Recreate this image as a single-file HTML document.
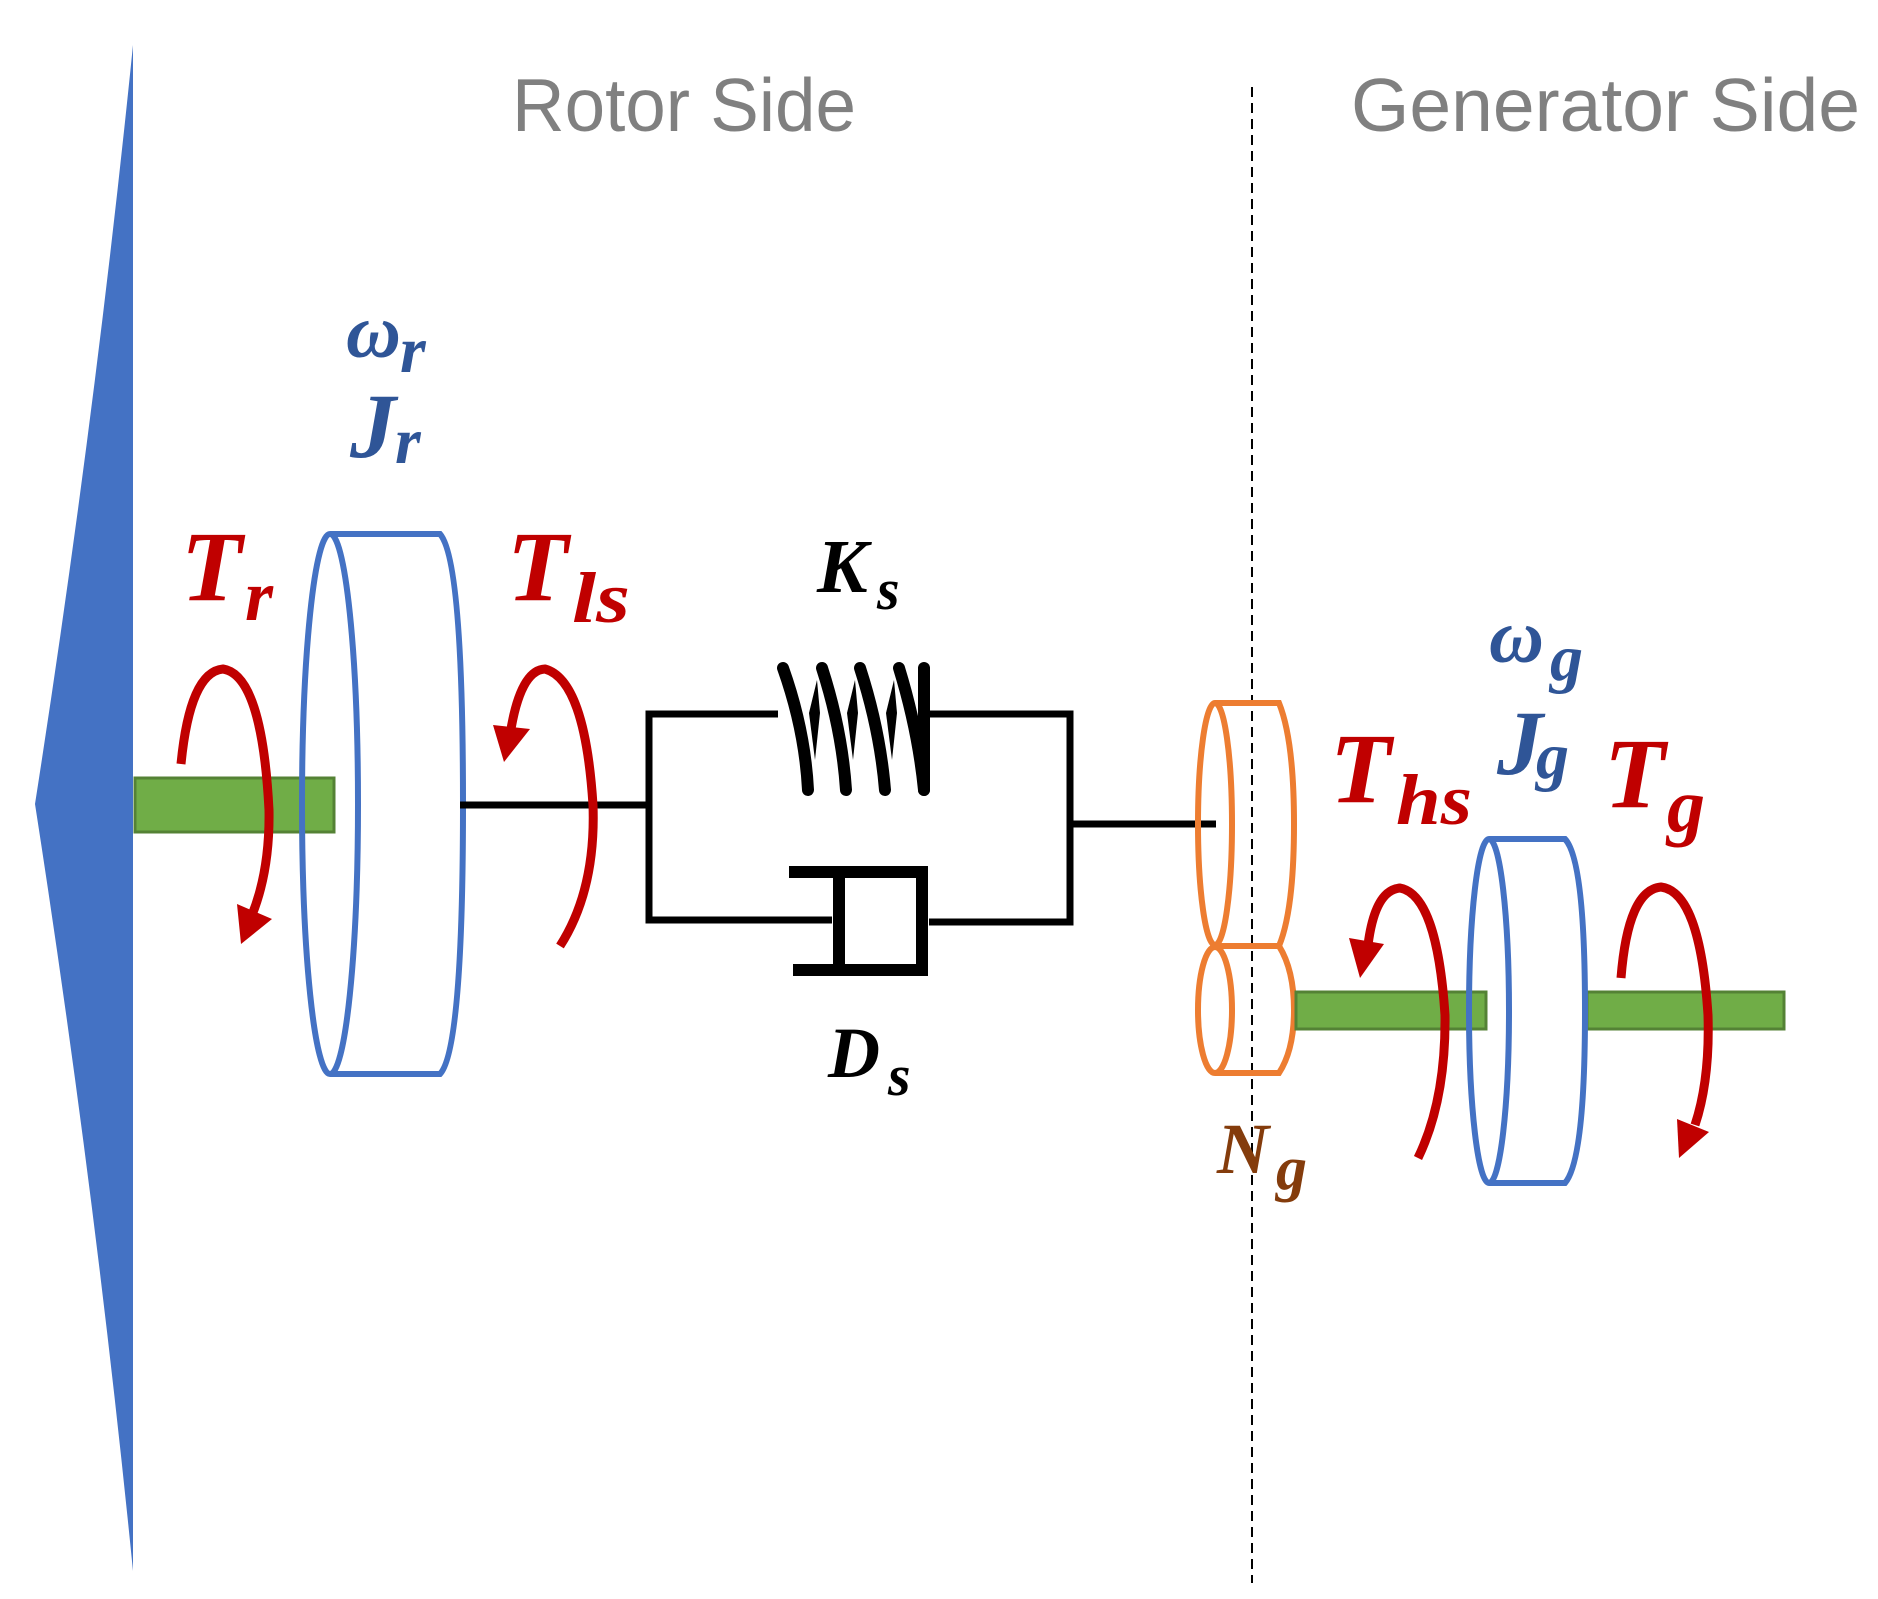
<!DOCTYPE html>
<html><head><meta charset="utf-8"><style>html,body{margin:0;padding:0;background:#fff}svg{display:block}</style></head>
<body>
<svg width="1878" height="1599" viewBox="0 0 1878 1599" xmlns="http://www.w3.org/2000/svg">
<rect width="1878" height="1599" fill="#fff"/>
<path d="M133,45 Q95,420 35,804 Q95,1190 133,1571 Z" fill="#4472c4"/>
<text x="512" y="131" font-family="Liberation Sans, sans-serif" font-size="75" fill="#808080" textLength="344" lengthAdjust="spacingAndGlyphs">Rotor Side</text>
<text x="1351" y="131" font-family="Liberation Sans, sans-serif" font-size="75" fill="#808080" textLength="509" lengthAdjust="spacingAndGlyphs">Generator Side</text>
<line x1="1252" y1="87" x2="1252" y2="1583" stroke="#000" stroke-width="2" stroke-dasharray="10,6"/>
<rect x="135" y="778" width="199" height="54" fill="#70ad47" stroke="#548235" stroke-width="3"/>
<g fill="none" stroke="#4472c4" stroke-width="6">
<path d="M330,534 L440,534 Q463,560 463,804 Q463,1050 440,1074 L330,1074"/>
<ellipse cx="330" cy="804" rx="28" ry="270" fill="none"/>
</g>
<g stroke="#000" stroke-width="7" fill="none">
<line x1="460" y1="805" x2="649" y2="805"/>
<polyline points="778,714 649,714 649,920 832,920"/>
<polyline points="926,714 1070,714 1070,922 929,922"/>
<line x1="1070" y1="824" x2="1216" y2="824"/>
</g>
<g fill="none" stroke="#000" stroke-width="12">
<polyline points="789,872 922,872 922,970 793,970"/>
<line x1="839" y1="872" x2="839" y2="970"/>
</g>
<g fill="none" stroke="#000" stroke-width="12" stroke-linecap="round">
<path d="M783,668 Q805,730 808,790"/>
<path d="M822,668 Q842,730 846,790"/>
<path d="M860,668 Q880,730 885,790"/>
<path d="M899,668 Q918,730 924,790"/>
<path d="M924,668 L924,790"/>
</g>
<g fill="#000">
<path d="M817,680 L809,713 L815,760 L820,713 Z"/>
<path d="M855,680 L847,713 L853,760 L858,713 Z"/>
<path d="M894,680 L886,713 L892,760 L897,713 Z"/>
</g>
<g fill="none" stroke="#ed7d31" stroke-width="6">
<path d="M1215,703 L1279,703 Q1294,740 1294,824 Q1294,910 1279,946 L1215,946"/>
<ellipse cx="1215" cy="824" rx="17" ry="121"/>
<path d="M1215,946 L1279,946 Q1294,970 1294,1010 Q1294,1050 1279,1073 L1215,1073"/>
<ellipse cx="1215" cy="1010" rx="17" ry="63"/>
</g>
<rect x="1296" y="992" width="190" height="37" fill="#70ad47" stroke="#548235" stroke-width="3"/>
<rect x="1587" y="992" width="197" height="37" fill="#70ad47" stroke="#548235" stroke-width="3"/>
<g fill="none" stroke="#4472c4" stroke-width="6">
<path d="M1489,839 L1565,839 Q1585,860 1585,1011 Q1585,1160 1565,1183 L1489,1183"/>
<ellipse cx="1489" cy="1011" rx="20" ry="172"/>
</g>
<g fill="none" stroke="#c00000" stroke-width="9">
<path d="M181,764 Q190,672 223,669 Q262,675 269,810 Q270,870 252,915"/>
<path d="M560,946 Q596,890 593,805 Q585,680 545,669 Q520,670 510,735"/>
<path d="M1418,1158 Q1446,1100 1445,1015 Q1437,895 1400,888 Q1375,890 1368,945"/>
<path d="M1621,978 Q1628,890 1661,887 Q1700,892 1708,1015 Q1710,1080 1695,1125"/>
</g>
<g fill="#c00000">
<polygon points="237,904 272,919 241,944"/>
<polygon points="493,725 530,729 504,762"/>
<polygon points="1349,938 1384,944 1360,978"/>
<polygon points="1677,1119 1709,1132 1679,1158"/>
</g>
<g font-family="Liberation Serif, serif" font-style="italic" font-weight="bold">
<text x="181" y="600" font-size="100" fill="#c00000">T</text>
<text x="245" y="620" font-size="72" fill="#c00000">r</text>
<text x="507" y="600" font-size="100" fill="#c00000">T</text>
<text x="572" y="622" font-size="72" fill="#c00000" textLength="58" lengthAdjust="spacingAndGlyphs">ls</text>
<text x="346" y="357" font-size="76" fill="#2f5597">ω</text>
<text x="400" y="372" font-size="66" fill="#2f5597">r</text>
<text x="350" y="457" font-size="92" fill="#2f5597">J</text>
<text x="395" y="463" font-size="66" fill="#2f5597">r</text>
<text x="817" y="592" font-size="76" fill="#000">K</text>
<text x="877" y="609" font-size="58" fill="#000">s</text>
<text x="828" y="1077" font-size="72" fill="#000">D</text>
<text x="888" y="1095" font-size="58" fill="#000">s</text>
<text x="1330" y="802" font-size="100" fill="#c00000">T</text>
<text x="1396" y="824" font-size="72" fill="#c00000" textLength="76" lengthAdjust="spacingAndGlyphs">hs</text>
<text x="1489" y="662" font-size="76" fill="#2f5597">ω</text>
<text x="1550" y="680" font-size="66" fill="#2f5597">g</text>
<text x="1497" y="774" font-size="92" fill="#2f5597">J</text>
<text x="1536" y="778" font-size="66" fill="#2f5597">g</text>
<text x="1604" y="807" font-size="100" fill="#c00000">T</text>
<text x="1667" y="831" font-size="76" fill="#c00000">g</text>
<text x="1217" y="1173" font-size="72" fill="#843c0c">N</text>
<text x="1276" y="1189" font-size="62" fill="#843c0c">g</text>
</g>
</svg>
</body></html>
